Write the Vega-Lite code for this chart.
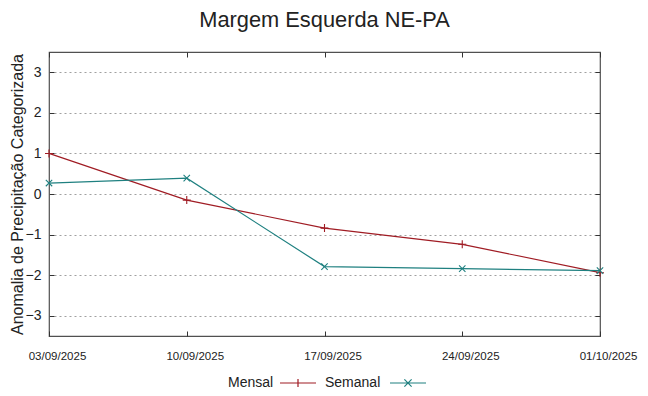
{
  "$schema": "https://vega.github.io/schema/vega-lite/v6.json",
  "autosize": {"type": "none"},
  "padding": {"left": 49, "top": 52, "right": 48, "bottom": 60},
  "width": 551,
  "height": 284,
  "background": "white",
  "config": {
    "font": "Liberation Sans",
    "view": {"stroke": "#505050", "strokeWidth": 1.2}
  },
  "title": {
    "text": "Margem Esquerda NE-PA",
    "fontSize": 21.8,
    "fontWeight": "normal",
    "color": "#222222",
    "offset": 20,
    "anchor": "middle"
  },
  "data": {
    "values": [
      {"date": "03/09/2025", "serie": "Mensal", "valor": 1.0},
      {"date": "10/09/2025", "serie": "Mensal", "valor": -0.15},
      {"date": "17/09/2025", "serie": "Mensal", "valor": -0.84},
      {"date": "24/09/2025", "serie": "Mensal", "valor": -1.24},
      {"date": "01/10/2025", "serie": "Mensal", "valor": -1.94},
      {"date": "03/09/2025", "serie": "Semanal", "valor": 0.27},
      {"date": "10/09/2025", "serie": "Semanal", "valor": 0.39},
      {"date": "17/09/2025", "serie": "Semanal", "valor": -1.79},
      {"date": "24/09/2025", "serie": "Semanal", "valor": -1.84},
      {"date": "01/10/2025", "serie": "Semanal", "valor": -1.89}
    ]
  },
  "layer": [
    {
      "mark": {"type": "line", "strokeWidth": 1.2},
      "encoding": {
        "x": {
          "field": "date", "type": "ordinal", "sort": null,
          "scale": {"type": "point", "padding": 0},
          "axis": {"title": null, "labelAngle": 0, "labelFontSize": 11.5, "labelColor": "#222222", "labelOffset": 8,
                   "domain": false, "tickSize": -5, "tickColor": "#333333", "labelPadding": 19, "grid": false}
        },
        "y": {
          "field": "valor", "type": "quantitative",
          "scale": {"domain": [-3.5, 3.5], "nice": false, "zero": false},
          "axis": {"title": "Anomalia de Precipitação Categorizada", "titleFontSize": 16, "titleFontWeight": "normal",
                   "titleColor": "#222222", "titlePadding": 0,
                   "values": [-3, -2, -1, 0, 1, 2, 3], "labelFontSize": 14, "labelColor": "#222222",
                   "domain": false, "tickSize": -5, "tickColor": "#333333", "labelPadding": 13,
                   "grid": true, "gridColor": "#a0a0a0", "gridDash": [2, 3], "gridWidth": 1}
        },
        "color": {
          "field": "serie", "type": "nominal", "title": null,
          "scale": {"domain": ["Mensal", "Semanal"], "range": ["#a01c24", "#1f8080"]},
          "legend": {
            "orient": "none", "legendX": 179, "legendY": 312, "direction": "horizontal",
            "padding": 0, "labelFontSize": 14, "labelColor": "#222222", "columnPadding": 6,
            "symbolType": "M-1,0H1", "symbolSize": 1300, "symbolStrokeWidth": 1.2,
            "encode": {
              "symbols": {"update": {
                "x": {"signal": "datum.value === 'Mensal' ? 70 : 83"},
                "shape": {"signal": "datum.value === 'Mensal' ? 'M-1,0H1M0,-0.22V0.22' : 'M-1,0H1M-0.2,-0.2L0.2,0.2M-0.2,0.2L0.2,-0.2'"}
              }},
              "labels": {"update": {"x": {"value": 0}}}
            }
          }
        }
      }
    },
    {
      "mark": {"type": "point", "filled": false, "strokeWidth": 1.1, "size": 64, "opacity": 1},
      "encoding": {
        "x": {
          "field": "date", "type": "ordinal", "sort": null,
          "scale": {"type": "point", "padding": 0},
          "axis": {"orient": "top", "labels": false, "title": null, "domain": false, "tickSize": -5, "tickColor": "#333333", "grid": false}
        },
        "y": {
          "field": "valor", "type": "quantitative",
          "scale": {"domain": [-3.5, 3.5], "nice": false, "zero": false},
          "axis": {"orient": "right", "labels": false, "title": null, "values": [-3, -2, -1, 0, 1, 2, 3], "domain": false, "tickSize": -5, "tickColor": "#333333", "grid": false}
        },
        "color": {"field": "serie", "type": "nominal", "legend": null},
        "shape": {
          "field": "serie", "type": "nominal", "legend": null,
          "scale": {"domain": ["Mensal", "Semanal"], "range": ["M-1,0H1M0,-1V1", "M-0.8,-0.8L0.8,0.8M-0.8,0.8L0.8,-0.8"]}
        }
      }
    }
  ],
  "resolve": {"scale": {"x": "independent", "y": "independent", "color": "shared", "shape": "independent"}}
}
